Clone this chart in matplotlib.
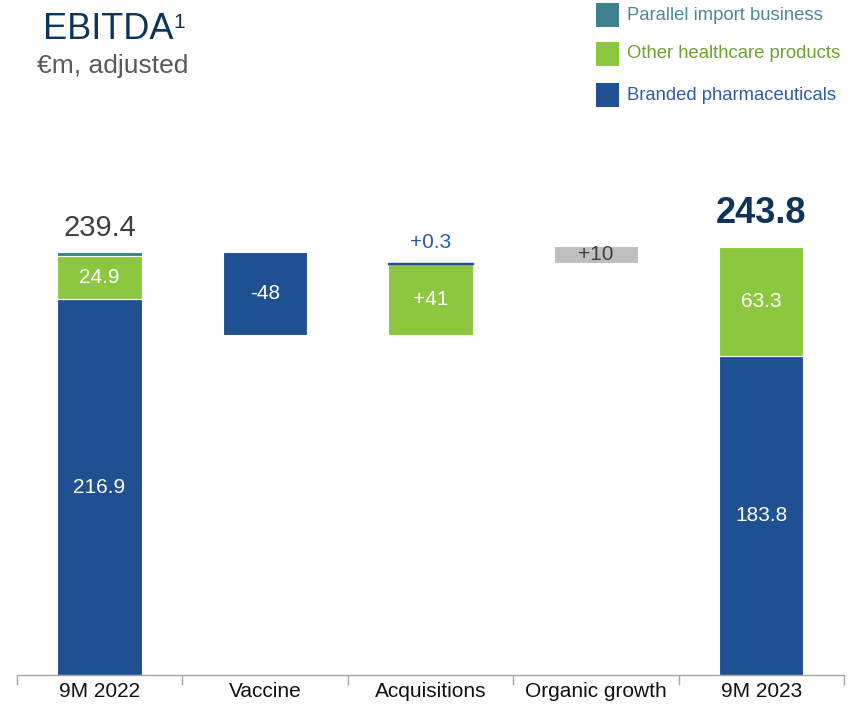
import matplotlib
matplotlib.use("Agg")
import matplotlib.pyplot as plt
from matplotlib.patches import Rectangle

# ---- data ----
categories = ["9M 2022", "Vaccine", "Acquisitions", "Organic growth", "9M 2023"]
branded_2022 = 216.9
other_2022 = 24.9
parallel_2022 = 2.4
total_2022 = 239.4
vaccine = -48
acq_other = 41
acq_branded = 0.3
organic = 10
branded_2023 = 183.8
other_2023 = 63.3
total_2023 = 243.8

legend_labels = ["Parallel import business", "Other healthcare products", "Branded pharmaceuticals"]

# ---- style ----
BLUE = "#1F5192"
GREEN = "#8DC63F"
TEAL = "#3E8290"
GREY = "#BFBFBF"
NAVY = "#0E3559"
DARK = "#404040"

plt.rcParams['font.family'] = ['Liberation Sans', 'DejaVu Sans']

W, H = 857, 706
fig = plt.figure(figsize=(W / 100, H / 100), dpi=100)


def fx(px):
    return px / W


def fy(py):
    return 1 - py / H


ax_left, ax_right = 16.7, 844
ax_bottom = 675
ymax = 300
ppu = 1.733
ax_top = ax_bottom - ymax * ppu
ax = fig.add_axes([fx(ax_left), fy(ax_bottom), (ax_right - ax_left) / W, (ax_bottom - ax_top) / H])
ax.set_xlim(-0.5, 4.5)
ax.set_ylim(0, ymax)

bw = 0.51
ek = dict(edgecolor="white", linewidth=0.8)

# 9M 2022 stacked
ax.bar(0, branded_2022, bw, color=BLUE, **ek)
ax.bar(0, other_2022, bw, bottom=branded_2022, color=GREEN, **ek)
ax.bar(0, parallel_2022, bw, bottom=branded_2022 + other_2022, color=TEAL, **ek)
top_2022 = branded_2022 + other_2022 + parallel_2022
level = top_2022

# Vaccine
ax.bar(1, -vaccine, bw, bottom=level + vaccine, color=BLUE, **ek)
ax.text(1, level + vaccine / 2, f"{vaccine:d}", ha="center", va="center", color="white", fontsize=15)
level += vaccine

# Acquisitions
ax.bar(2, acq_other, bw, bottom=level, color=GREEN, **ek)
ax.text(2, level + acq_other / 2, f"+{acq_other:d}", ha="center", va="center", color="white", fontsize=15)
ax.bar(2, acq_branded, bw, bottom=level + acq_other, color=BLUE, edgecolor=BLUE, linewidth=1.0)
level += acq_other + acq_branded
ax.annotate(f"+{acq_branded}", (2, level), xytext=(0, 8), textcoords="offset points",
            ha="center", va="bottom", color="#2A5CA8", fontsize=15)

# Organic growth
ax.bar(3, organic, bw, bottom=level, color=GREY, **ek)
ax.text(3, level + organic / 2, f"+{organic:d}", ha="center", va="center", color=DARK, fontsize=15)
level += organic

# 9M 2023 stacked
ax.bar(4, branded_2023, bw, color=BLUE, **ek)
ax.bar(4, other_2023, bw, bottom=branded_2023, color=GREEN, **ek)
top_2023 = branded_2023 + other_2023

# inner labels
ax.text(0, branded_2022 / 2, f"{branded_2022}", ha="center", va="center", color="white", fontsize=15)
ax.text(0, branded_2022 + other_2022 / 2, f"{other_2022}", ha="center", va="center", color="white", fontsize=15)
ax.text(4, branded_2023 / 2, f"{branded_2023}", ha="center", va="center", color="white", fontsize=15)
ax.text(4, branded_2023 + other_2023 / 2, f"{other_2023}", ha="center", va="center", color="white", fontsize=15)

# totals
ax.annotate(f"{total_2022}", (0, top_2022), xytext=(0, 7), textcoords="offset points",
            ha="center", va="bottom", color=DARK, fontsize=21)
ax.annotate(f"{total_2023}", (4, top_2023), xytext=(0, 11), textcoords="offset points",
            ha="center", va="bottom", color=NAVY, fontsize=26, fontweight="bold")

# axes styling
for s in ["top", "left", "right"]:
    ax.spines[s].set_visible(False)
ax.spines["bottom"].set_color("#A6A6A6")
ax.spines["bottom"].set_linewidth(1.0)
ax.set_yticks([])
ax.set_xticks(range(len(categories)))
ax.set_xticklabels(categories, fontsize=15, color="#111111")
ax.tick_params(axis="x", which="major", length=0, pad=5)
ax.set_xticks([i - 0.5 for i in range(len(categories) + 1)], minor=True)
ax.tick_params(axis="x", which="minor", length=7, color="#A6A6A6", width=1.0)

# title
fig.text(fx(43), fy(39.3), "EBITDA", fontsize=26, color=NAVY, va="baseline", ha="left")
fig.text(fx(173), fy(28), "1", fontsize=15, color=NAVY, va="baseline", ha="left")
fig.text(fx(37), fy(72.7), "€m, adjusted", fontsize=19, color="#595959", va="baseline", ha="left")

# legend
leg_colors = [TEAL, GREEN, BLUE]
leg_text_colors = ["#4A8A98", "#6FA030", "#2B5EA6"]
leg_tops = [3, 42, 83]
for lab, c, tc, t in zip(legend_labels, leg_colors, leg_text_colors, leg_tops):
    fig.patches.append(Rectangle((fx(596), fy(t + 24)), 23 / W, 24 / H, transform=fig.transFigure,
                                 facecolor=c, edgecolor="none"))
    fig.text(fx(627), fy(t + 12), lab, fontsize=13.3, color=tc, va="center", ha="left")

fig.savefig("out.png", dpi=100)
